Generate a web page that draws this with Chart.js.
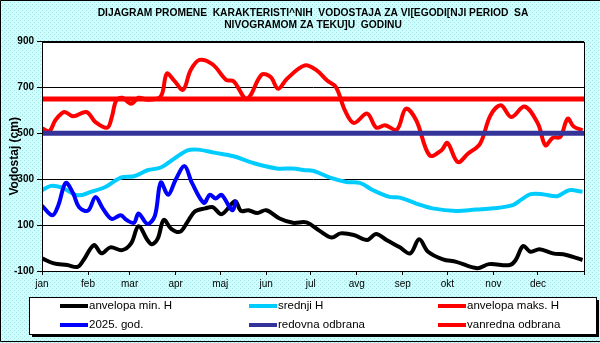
<!DOCTYPE html>
<html>
<head>
<meta charset="utf-8">
<script src="https://cdn.jsdelivr.net/npm/chart.js@4.4.1/dist/chart.umd.min.js"></script>
<style>
  html, body { margin: 0; padding: 0; background: #ccffff; }
  canvas { display: block; }
</style>
</head>
<body>
<canvas id="vodostaj" width="600" height="343"></canvas>
<script>
// month starts (day of year) and labels for the x axis
var monthDays = [0, 31, 59, 90, 120, 151, 181, 212, 243, 273, 304, 334];
var monthLabels = ['jan', 'feb', 'mar', 'apr', 'maj', 'jun', 'jul', 'avg', 'sep', 'okt', 'nov', 'dec'];

// anvelopa min. H
var minDays = [0, 8, 17, 24, 28, 35, 40, 46, 54, 60, 65, 71, 74, 78, 82, 87, 93, 98, 103, 110, 115, 121, 130, 134, 139, 145, 151, 160, 169, 178, 187, 195, 201, 210, 219, 225, 232, 241, 248, 254, 260, 270, 279, 293, 301, 315, 319, 324, 329, 335, 344, 353, 364];
var minVals = [-45, -67, -74, -82, -52, 13, -23, 3, -9, 20, 95, 35, 17, 42, 123, 84, 71, 114, 160, 173, 178, 148, 204, 162, 165, 153, 165, 129, 110, 112, 75, 46, 64, 57, 35, 61, 35, 3, -23, 38, -16, -49, -60, -88, -70, -74, -52, 9, -16, -5, -23, -30, -52];

// srednji H
var avgDays = [0, 6, 13, 24, 33, 43, 53, 62, 71, 80, 89, 98, 105, 116, 129, 142, 158, 169, 176, 183, 194, 205, 214, 223, 234, 241, 252, 263, 279, 292, 304, 317, 323, 329, 337, 347, 355, 364];
var avgVals = [252, 271, 264, 230, 245, 267, 307, 313, 339, 351, 390, 426, 429, 416, 400, 371, 347, 347, 340, 336, 307, 288, 284, 252, 223, 220, 194, 173, 162, 168, 173, 187, 212, 235, 235, 226, 252, 245];

// anvelopa maks. H
var maxDays = [0, 5, 9, 15, 21, 30, 36, 44, 47, 50, 54, 60, 65, 71, 80, 84, 89, 95, 100, 106, 115, 124, 129, 138, 148, 154, 159, 165, 177, 185, 192, 198, 204, 210, 219, 225, 231, 239, 245, 252, 261, 269, 273, 280, 287, 295, 302, 309, 316, 325, 334, 339, 344, 349, 354, 358, 364];
var maxVals = [522, 510, 557, 593, 574, 593, 549, 525, 571, 643, 655, 629, 655, 646, 661, 760, 730, 690, 774, 820, 800, 733, 727, 651, 756, 745, 694, 738, 796, 774, 730, 701, 600, 545, 586, 525, 535, 516, 607, 557, 404, 426, 458, 375, 412, 455, 578, 622, 571, 617, 542, 448, 481, 484, 564, 530, 513];

// 2025. god.
var curDays = [0, 7, 11, 16, 21, 25, 31, 36, 41, 47, 53, 57, 62, 65, 71, 76, 80, 85, 90, 96, 101, 109, 113, 117, 121, 128, 131];
var curVals = [185, 143, 187, 284, 238, 178, 163, 222, 172, 127, 143, 122, 110, 151, 105, 140, 286, 232, 298, 357, 284, 197, 232, 216, 232, 165, 209];

// odbrana levels
var redovna = 500;
var vanredna = 650;

var yMin = -100, yMax = 900, yStep = 200;

function pts(days, vals) {
    return days.map(function (d, i) { return { x: d, y: vals[i] }; });
}
function level(v) {
    return [{ x: 0, y: v }, { x: 365, y: v }];
}

var fontFam = "'Liberation Sans', Arial, sans-serif";

var bgPattern = (function () {
    var c = document.createElement('canvas');
    c.width = 4; c.height = 4;
    var g = c.getContext('2d');
    g.fillStyle = '#ccffff';
    g.fillRect(0, 0, 4, 4);
    g.fillStyle = '#a8dede';
    g.fillRect(0, 0, 1, 1);
    g.fillRect(2, 2, 1, 1);
    return c;
})();

var framePlugin = {
    id: 'frame',
    beforeDraw: function (chart) {
        var ctx = chart.ctx, a = chart.chartArea;
        ctx.save();
        ctx.fillStyle = ctx.createPattern(bgPattern, 'repeat');
        ctx.fillRect(0, 0, chart.width, chart.height);
        ctx.fillStyle = '#ffffff';
        ctx.fillRect(a.left, a.top, a.right - a.left, a.bottom - a.top);
        ctx.restore();
    },
    afterDatasetsDraw: function (chart) {
        var ctx = chart.ctx, a = chart.chartArea;
        ctx.save();
        ctx.strokeStyle = '#000';
        ctx.lineWidth = 1;
        ctx.strokeRect(Math.round(a.left) + 0.5, Math.round(a.top) + 0.5, Math.round(a.right - a.left), Math.round(a.bottom - a.top));
        ctx.restore();
    },
    afterDraw: function (chart) {
        var ctx = chart.ctx;
        ctx.save();
        // outer border (left, top, bottom)
        ctx.strokeStyle = '#000';
        ctx.lineWidth = 1;
        ctx.beginPath();
        ctx.moveTo(600, 0.5);
        ctx.lineTo(0.5, 0.5);
        ctx.lineTo(0.5, 341.5);
        ctx.lineTo(600, 341.5);
        ctx.stroke();
        // legend box with shadow
        var lx = 29, ly = 297, lw = 567, lh = 37;
        ctx.fillStyle = '#000';
        ctx.fillRect(lx + 3, ly + 3, lw, lh);
        ctx.fillStyle = '#fff';
        ctx.fillRect(lx, ly, lw, lh);
        ctx.strokeRect(lx + 0.5, ly + 0.5, lw, lh);
        var cols = [60, 249, 438], rows = [306, 325];
        ctx.font = '11.5px ' + fontFam;
        ctx.textBaseline = 'middle';
        ctx.textAlign = 'left';
        chart.data.datasets.forEach(function (ds, i) {
            var x = cols[i % 3], y = rows[Math.floor(i / 3)];
            ctx.strokeStyle = ds.borderColor;
            ctx.lineWidth = 4;
            ctx.beginPath();
            ctx.moveTo(x, y);
            ctx.lineTo(x + 28, y);
            ctx.stroke();
            ctx.fillStyle = '#000';
            ctx.fillText(ds.label, x + 29, y);
        });
        ctx.restore();
    }
};

function line(label, data, color, width, order) {
    return {
        label: label,
        data: data,
        borderColor: color,
        backgroundColor: color,
        borderWidth: width,
        pointRadius: 0,
        tension: 0.35,
        fill: false,
        order: order
    };
}

var ctx = document.getElementById('vodostaj').getContext('2d');
var chart = new Chart(ctx, {
    type: 'line',
    data: {
        datasets: [
            line('anvelopa min. H', pts(minDays, minVals), '#000000', 4, 6),
            line('srednji H', pts(avgDays, avgVals), '#00ccff', 4, 5),
            line('anvelopa maks. H', pts(maxDays, maxVals), '#ff0000', 4, 4),
            line('2025. god.', pts(curDays, curVals), '#0000ff', 4, 3),
            line('redovna odbrana', level(redovna), '#333399', 5, 2),
            line('vanredna odbrana', level(vanredna), '#ff0000', 5, 1)
        ]
    },
    options: {
        responsive: false,
        animation: false,
        devicePixelRatio: 1,
        layout: { padding: { left: 0, right: 16, top: 0, bottom: 0 } },
        plugins: {
            legend: { display: false },
            tooltip: { enabled: false },
            title: {
                display: true,
                fullSize: false,
                text: ['DIJAGRAM PROMENE  KARAKTERISTI^NIH  VODOSTAJA ZA VI[EGODI[NJI PERIOD  SA', 'NIVOGRAMOM ZA TEKU]U  GODINU'],
                color: '#000',
                font: { family: fontFam, size: 10.25, weight: 'bold', lineHeight: 1.1 },
                padding: { top: 8, bottom: 11 }
            }
        },
        scales: {
            x: {
                type: 'linear',
                min: 0,
                max: 365,
                afterBuildTicks: function (s) {
                    s.ticks = monthDays.concat([365]).map(function (v) { return { value: v }; });
                },
                afterFit: function (s) { s.height = 72; },
                ticks: {
                    autoSkip: false,
                    maxRotation: 0,
                    color: '#000',
                    padding: 3,
                    font: { family: fontFam, size: 10 },
                    callback: function (v, i) { return monthLabels[i] || ''; }
                },
                grid: { drawOnChartArea: false, color: '#000', tickLength: 4 },
                border: { color: '#000' }
            },
            y: {
                min: yMin,
                max: yMax,
                afterFit: function (s) { s.width = 42; },
                ticks: {
                    stepSize: yStep,
                    color: '#000',
                    padding: 3,
                    font: { family: fontFam, size: 10, weight: 'bold' }
                },
                grid: { color: '#000', tickLength: 5 },
                border: { color: '#000' },
                title: {
                    display: true,
                    text: 'Vodostaj (cm)',
                    color: '#000',
                    font: { family: fontFam, size: 12, weight: 'bold' },
                    padding: { top: 7, bottom: 0 }
                }
            }
        }
    },
    plugins: [framePlugin]
});
</script>
</body>
</html>
